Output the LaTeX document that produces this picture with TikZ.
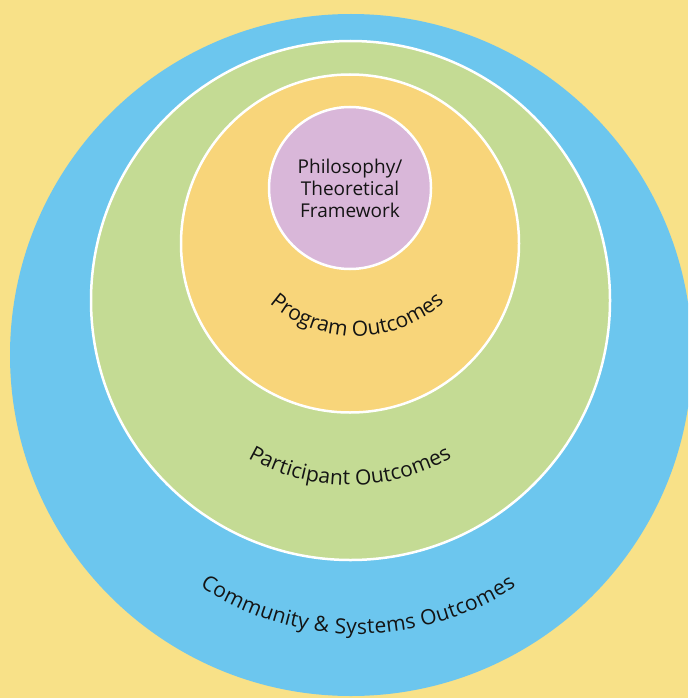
\documentclass[tikz,border=0pt]{standalone}
\usepackage{fontspec}
\newfontfamily\ringfont{Open Sans}
\usetikzlibrary{decorations.text}

\definecolor{bgyellow}{RGB}{248,225,136}
\definecolor{ringblue}{RGB}{108,198,238}
\definecolor{ringgreen}{RGB}{196,219,148}
\definecolor{ringorange}{RGB}{248,213,122}
\definecolor{ringpurple}{RGB}{217,183,217}
\definecolor{inkgray}{RGB}{20,20,20}

\begin{document}
\begin{tikzpicture}[x=1pt,y=-1pt,
  ring/.style={circle,draw=white,line width=2.5pt,inner sep=0pt},
  ringtext/.style={decorate,decoration={text along path,text align=fit to path,
    text={|\ringfont\fontsize{21}{23}\selectfont\color{inkgray}|#1}}}]
\useasboundingbox (0,0) rectangle (688,698);
\clip (0,0) rectangle (688,698);
\fill[bgyellow] (0,0) rectangle (688,698);

% rings, outside in
\node[ring,draw=none,fill=ringblue,minimum size=682pt] (community) at (351,355) {};
\node[ring,fill=ringgreen,minimum size=519pt] (participant) at (350.5,300.5) {};
\node[ring,fill=ringorange,minimum size=338pt] (program) at (350,243.5) {};
\node[ring,fill=ringpurple,minimum size=162pt] (philosophy) at (350,188) {};

% core text
\node[font=\ringfont\fontsize{19}{22}\selectfont,text=inkgray,align=center] (core) at (philosophy.center) {Philosophy/\\Theoretical\\Framework};

% curved labels
\path[ringtext={Program Outcomes}] (356,204) ++(131:132) arc[start angle=131,end angle=49,radius=132];
\path[ringtext={Participant Outcomes}] (350,279) ++(119.7:206) arc[start angle=119.7,end angle=60.3,radius=206];
\path[ringtext={Community {\&} Systems Outcomes}] (358,347) ++(123.4:287) arc[start angle=123.4,end angle=56.6,radius=287];

\end{tikzpicture}
\end{document}
